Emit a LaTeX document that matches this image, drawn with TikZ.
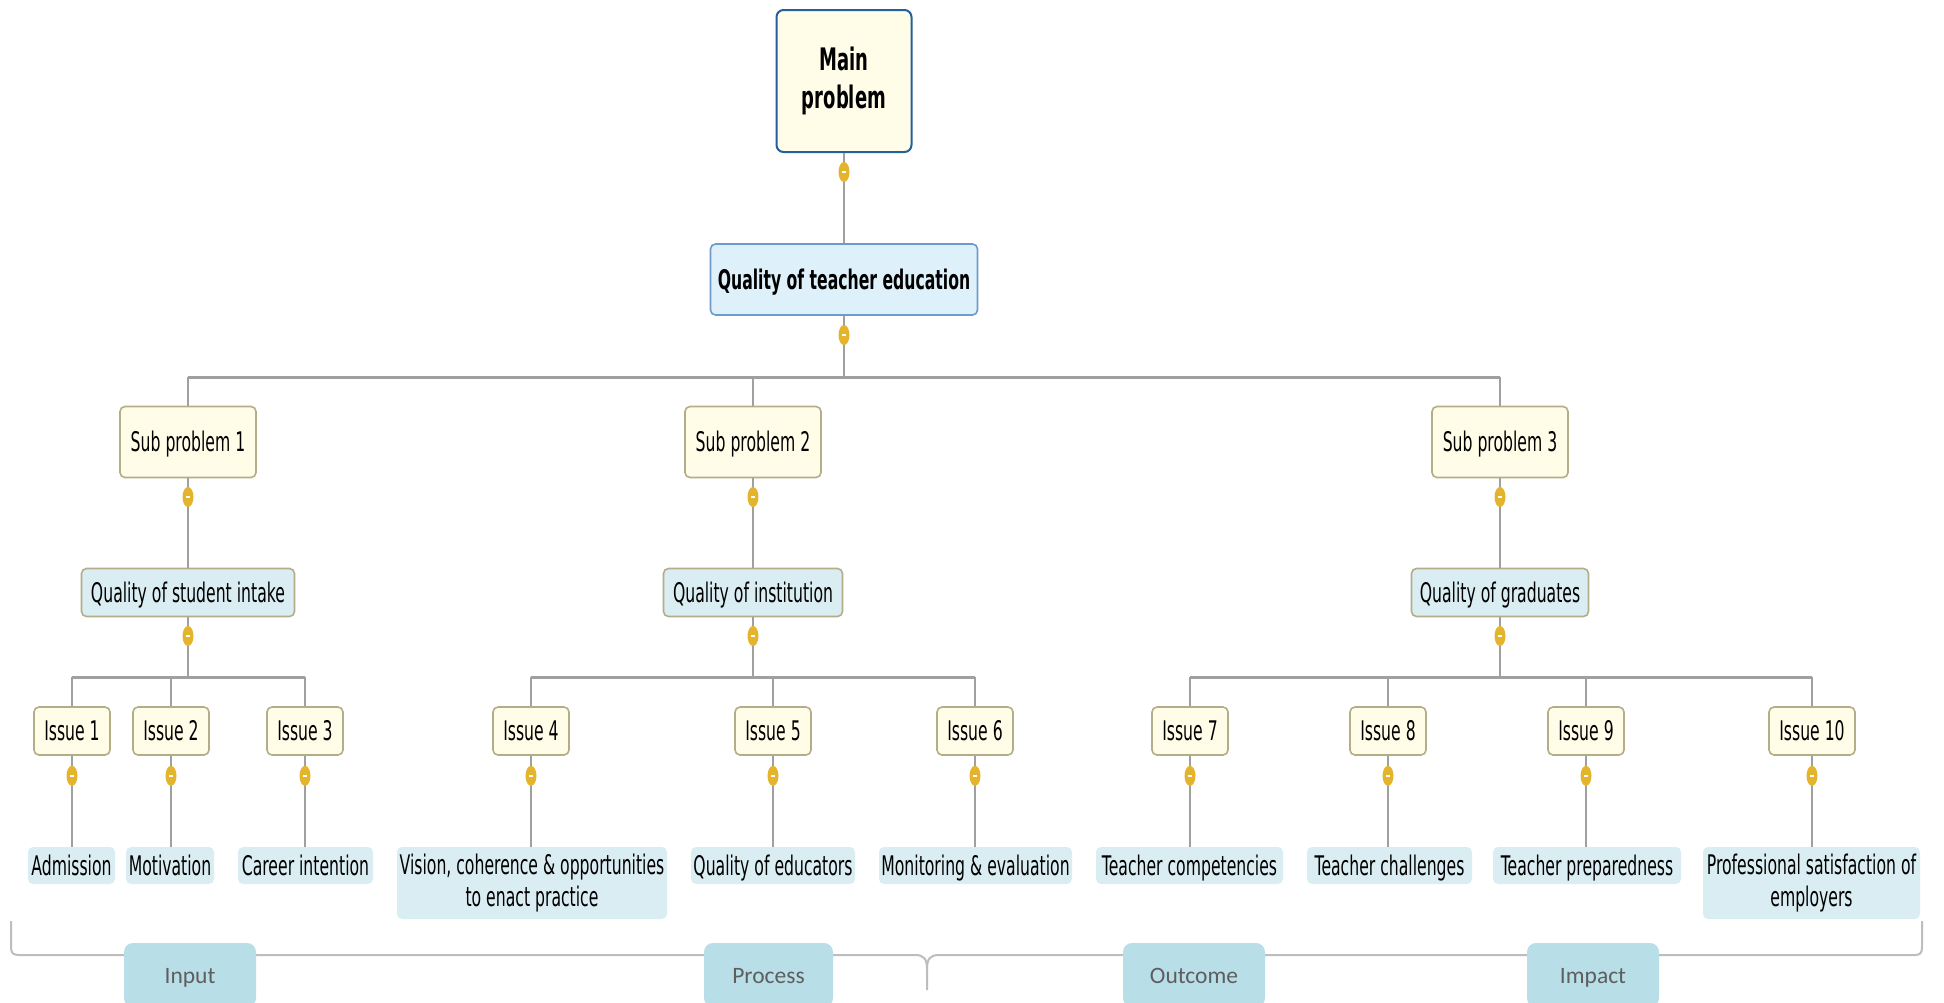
\documentclass[tikz,border=0pt]{standalone}
\usepackage{fontspec}
\setmainfont{DejaVu Sans}[FakeStretch=0.58]
\newfontfamily\tagfont{Carlito}
\usetikzlibrary{shapes.geometric,calc}

\definecolor{cream}{HTML}{FFFDE8}
\definecolor{creamline}{HTML}{B3AE88}
\definecolor{mainline}{HTML}{24609C}
\definecolor{topfill}{HTML}{DEF0FA}
\definecolor{topline}{HTML}{6F9BCB}
\definecolor{paleblue}{HTML}{DAEDF3}
\definecolor{tagfill}{HTML}{B8DEE8}
\definecolor{tagtext}{HTML}{5E5E5E}
\definecolor{wire}{HTML}{A0A0A0}
\definecolor{knob}{HTML}{E4B42C}
\definecolor{bracecol}{HTML}{BDBDBD}

\begin{document}
\begin{tikzpicture}[x=1pt,y=-1pt,
  nodebox/.style={rounded corners=5pt, inner sep=0pt, align=center,
    font=\fontsize{27}{32}\selectfont},
  oneline/.style={text height=22.5pt, text depth=3.5pt},
  mainbox/.style={nodebox, fill=cream, draw=mainline, line width=2pt, rounded corners=7pt,
    font=\bfseries\fontsize{31}{38}\selectfont, minimum width=135pt, minimum height=142pt},
  topbox/.style={nodebox, oneline, fill=topfill, draw=topline, line width=1.6pt,
    font=\bfseries\fontsize{27}{32}\selectfont, minimum width=267pt, minimum height=71pt},
  subbox/.style={nodebox, oneline, fill=cream, draw=creamline, line width=1.6pt,
    minimum width=136pt, minimum height=71pt},
  areabox/.style={nodebox, oneline, fill=paleblue, draw=creamline, line width=1.6pt, minimum height=48pt},
  issuebox/.style={nodebox, oneline, fill=cream, draw=creamline, line width=1.6pt,
    minimum height=48pt, minimum width=76pt},
  leafbox/.style={nodebox, oneline, fill=paleblue, minimum height=37pt},
  twoleafbox/.style={nodebox, fill=paleblue, minimum height=72pt},
  tagbox/.style={rounded corners=9pt, fill=tagfill, inner sep=0pt, minimum height=64pt,
    text height=18.5pt, text depth=2.5pt,
    font=\tagfont\fontsize{23.5}{28}\selectfont, text=tagtext},
  wireline/.style={draw=wire, line width=2pt},
  barline/.style={draw=wire, line width=3pt},
  knobmark/.style={ellipse, fill=knob, minimum width=11pt, minimum height=20pt, inner sep=0pt,
    path picture={\draw[white, line width=1.6pt]
      ([xshift=-2pt]path picture bounding box.center) -- ([xshift=2pt]path picture bounding box.center);}},
]
\path[use as bounding box, fill=white] (0,0) rectangle (1944,1002);

% ---- boxes ----
\node[mainbox] (main) at (844,81) {Main\\problem};
\node[topbox] (qte) at (844,279.5) {Quality of teacher education};

\node[subbox] (sp1) at (188,442) {Sub problem 1};
\node[subbox] (sp2) at (753,442) {Sub problem 2};
\node[subbox] (sp3) at (1500,442) {Sub problem 3};

\node[areabox, minimum width=213pt] (qa1) at (188,592.5) {Quality of student intake};
\node[areabox, minimum width=179pt] (qa2) at (753,592.5) {Quality of institution};
\node[areabox, minimum width=177pt] (qa3) at (1500,592.5) {Quality of graduates};

\node[issuebox] (i1) at (72,731) {Issue 1};
\node[issuebox] (i2) at (171,731) {Issue 2};
\node[issuebox] (i3) at (305,731) {Issue 3};
\node[issuebox] (i4) at (531,731) {Issue 4};
\node[issuebox] (i5) at (773,731) {Issue 5};
\node[issuebox] (i6) at (975,731) {Issue 6};
\node[issuebox] (i7) at (1190,731) {Issue 7};
\node[issuebox] (i8) at (1388,731) {Issue 8};
\node[issuebox] (i9) at (1586,731) {Issue 9};
\node[issuebox, minimum width=86pt] (i10) at (1812,731) {Issue 10};

\node[leafbox, minimum width=87pt] (l1) at (71.5,865.5) {Admission};
\node[leafbox, minimum width=88pt] (l2) at (170,865.5) {Motivation};
\node[leafbox, minimum width=135pt] (l3) at (305.5,865.5) {Career intention};
\node[twoleafbox, minimum width=270pt] (l4) at (532,883)
  {Vision, coherence \& opportunities\\to enact practice};
\node[leafbox, minimum width=164pt] (l5) at (773,865.5) {Quality of educators};
\node[leafbox, minimum width=193pt] (l6) at (975.5,865.5) {Monitoring \& evaluation};
\node[leafbox, minimum width=187pt] (l7) at (1189.5,865.5) {Teacher competencies};
\node[leafbox, minimum width=165pt] (l8) at (1389.5,865.5) {Teacher challenges};
\node[leafbox, minimum width=188pt] (l9) at (1587,865.5) {Teacher preparedness};
\node[twoleafbox, minimum width=217pt] (l10) at (1811.5,883)
  {Professional satisfaction of\\employers};

% ---- connectors ----
\coordinate (bar0) at (844,377);
\coordinate (bar1) at (188,677);
\coordinate (bar2) at (753,677);
\coordinate (bar3) at (1500,677);

\draw[wireline] (main.south) -- (qte.north);
\draw[wireline] (qte.south) -- (bar0);
\draw[barline] (bar0 -| sp1.north) -- (bar0 -| sp3.north);
\foreach \s in {sp1,sp2,sp3} \draw[wireline] (bar0 -| \s.north) -- (\s.north);

\draw[wireline] (sp1.south) -- (qa1.north);
\draw[wireline] (sp2.south) -- (qa2.north);
\draw[wireline] (sp3.south) -- (qa3.north);

\draw[wireline] (qa1.south) -- (bar1);
\draw[wireline] (qa2.south) -- (bar2);
\draw[wireline] (qa3.south) -- (bar3);
\draw[barline] (bar1 -| i1.north) -- (bar1 -| i3.north);
\draw[barline] (bar2 -| i4.north) -- (bar2 -| i6.north);
\draw[barline] (bar3 -| i7.north) -- (bar3 -| i10.north);
\foreach \s in {i1,i2,i3} \draw[wireline] (bar1 -| \s.north) -- (\s.north);
\foreach \s in {i4,i5,i6} \draw[wireline] (bar2 -| \s.north) -- (\s.north);
\foreach \s in {i7,i8,i9,i10} \draw[wireline] (bar3 -| \s.north) -- (\s.north);

\foreach \i/\l in {i1/l1,i2/l2,i3/l3,i4/l4,i5/l5,i6/l6,i7/l7,i8/l8,i9/l9,i10/l10}
  \draw[wireline] (\i.south) -- (\i.south |- \l.north);

% ---- collapse knobs ----
\node[knobmark] (k0) at (844,172) {};
\node[knobmark] (k1) at (844,335) {};
\foreach \x [count=\n] in {188,753,1500} {
  \node[knobmark] (ks\n) at (\x,497) {};
  \node[knobmark] (ka\n) at (\x,636) {};
}
\foreach \s in {i1,i2,i3,i4,i5,i6,i7,i8,i9,i10}
  \node[knobmark] (k\s) at ($(\s.south)+(0,20)$) {};

% ---- bracket along the bottom ----
\draw[draw=bracecol, line width=2pt]
  (11,921) -- (11,947) .. controls (11,953) and (13,955) .. (19,955)
  -- (915,955) .. controls (924,955) and (927,959) .. (927,969) -- (927,990)
  -- (927,969) .. controls (927,959) and (930,955) .. (939,955)
  -- (1915,955) .. controls (1920,955) and (1922,953) .. (1922,947) -- (1922,921);

% ---- stage tags ----
\node[tagbox, minimum width=132pt] (tin) at (190,975) {Input};
\node[tagbox, minimum width=129pt] (tpr) at (768.5,975) {Process};
\node[tagbox, minimum width=142pt] (tou) at (1194,975) {Outcome};
\node[tagbox, minimum width=132pt] (tim) at (1593,975) {Impact};
\end{tikzpicture}
\end{document}
